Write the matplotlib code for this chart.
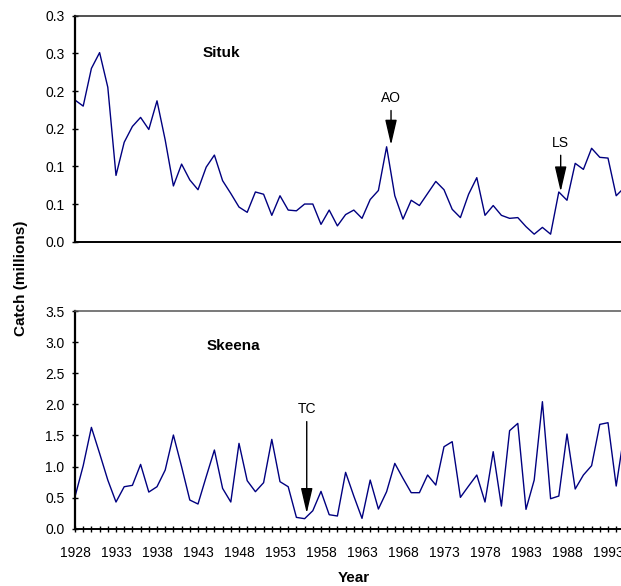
import matplotlib
matplotlib.use("Agg")
import matplotlib.pyplot as plt
from matplotlib.ticker import FixedLocator, MultipleLocator

plt.rcParams['font.family'] = ['Liberation Sans', 'DejaVu Sans']

years = list(range(1928, 1996))
situk = [0.188, 0.180, 0.230, 0.251, 0.205, 0.088, 0.132, 0.153, 0.165, 0.149,
         0.187, 0.135, 0.074, 0.103, 0.082, 0.069, 0.099, 0.115, 0.081, 0.064,
         0.046, 0.039, 0.066, 0.063, 0.035, 0.061, 0.042, 0.041, 0.050, 0.050,
         0.023, 0.042, 0.021, 0.036, 0.042, 0.031, 0.056, 0.068, 0.126, 0.061,
         0.030, 0.055, 0.048, 0.064, 0.080, 0.069, 0.043, 0.032, 0.063, 0.085,
         0.035, 0.048, 0.035, 0.031, 0.032, 0.020, 0.010, 0.019, 0.010, 0.066,
         0.055, 0.104, 0.096, 0.124, 0.112, 0.111, 0.061, 0.072]
skeena = [0.514, 1.013, 1.629, 1.211, 0.782, 0.429, 0.675, 0.697, 1.034, 0.589,
          0.675, 0.943, 1.506, 0.997, 0.461, 0.397, 0.836, 1.265, 0.648, 0.429,
          1.372, 0.772, 0.595, 0.740, 1.436, 0.756, 0.675, 0.182, 0.161, 0.289,
          0.600, 0.225, 0.204, 0.906, 0.525, 0.166, 0.782, 0.316, 0.595, 1.050,
          0.809, 0.579, 0.579, 0.863, 0.702, 1.318, 1.399, 0.504, 0.686, 0.863,
          0.429, 1.238, 0.364, 1.576, 1.693, 0.311, 0.782, 2.042, 0.482, 0.525,
          1.522, 0.638, 0.863, 1.013, 1.677, 1.704, 0.686, 1.55]

situk_ticks = [0.0, 0.05, 0.10, 0.15, 0.20, 0.25, 0.30]
situk_ticklabels = ['0.0', '0.1', '0.1', '0.2', '0.2', '0.3', '0.3']
skeena_ticks = [0.0, 0.5, 1.0, 1.5, 2.0, 2.5, 3.0, 3.5]
skeena_ticklabels = ['0.0', '0.5', '1.0', '1.5', '2.0', '2.5', '3.0', '3.5']
year_ticks = [1928, 1933, 1938, 1943, 1948, 1953, 1958, 1963, 1968, 1973, 1978, 1983, 1988, 1993]
year_ticklabels = ['1928', '1933', '1938', '1943', '1948', '1953', '1958', '1963',
                   '1968', '1973', '1978', '1983', '1988', '1993']

# events: (label, year, tip value, text value)
situk_events = [('AO', 1966.54, 0.1284, 0.1908), ('LS', 1987.23, 0.0664, 0.1314)]
skeena_events = [('TC', 1956.26, 0.2476, 1.924)]

W, H = 621, 586
fig = plt.figure(figsize=(W / 100, H / 100), dpi=100)

left = 75 / W
xmax = 1998
width = (xmax - 1928) * 8.2 / W

ax1 = fig.add_axes([left, 1 - 241.7 / H, width, (241.7 - 15.7) / H])
ax2 = fig.add_axes([left, 1 - 528.7 / H, width, (528.7 - 311) / H])

line_color = '#000080'
for ax in (ax1, ax2):
    ax.set_xlim(1928, xmax)
    ax.spines['right'].set_visible(False)
    ax.spines['left'].set_linewidth(1.6)
    ax.spines['left'].set_color('black')
    ax.spines['bottom'].set_linewidth(1.4)
    ax.spines['bottom'].set_color('black')
    ax.spines['top'].set_linewidth(1.1)
    ax.tick_params(axis='y', direction='inout', length=5, width=1.0, pad=5,
                   labelsize=10, colors='black')

ax1.spines['top'].set_color('#222222')
ax2.spines['top'].set_color('#555555')

ax1.plot(years, situk, color=line_color, lw=1.0)
ax2.plot(years, skeena, color=line_color, lw=1.0)

ax1.set_ylim(0, 0.30)
ax1.yaxis.set_major_locator(FixedLocator(situk_ticks))
ax1.set_yticklabels(situk_ticklabels)
ax1.set_xticks([])

ax2.set_ylim(0, 3.5)
ax2.yaxis.set_major_locator(FixedLocator(skeena_ticks))
ax2.set_yticklabels(skeena_ticklabels)
ax2.xaxis.set_major_locator(FixedLocator(year_ticks))
ax2.set_xticklabels(year_ticklabels)
ax2.xaxis.set_minor_locator(MultipleLocator(1))
ax2.tick_params(axis='x', which='both', direction='inout', length=5, width=1.0,
                pad=10, labelsize=10, colors='black')

ax1.text(0.223, 0.836, 'Situk', transform=ax1.transAxes, fontsize=11,
         fontweight='bold', ha='left', va='center')
ax2.text(0.230, 0.841, 'Skeena', transform=ax2.transAxes, fontsize=11,
         fontweight='bold', ha='left', va='center')

arrow_style = '-|>,head_length=15.5,head_width=3.6'
for ax, events in ((ax1, situk_events), (ax2, skeena_events)):
    for lab, yr, tip, txt in events:
        ax.annotate(lab, xy=(yr, tip), xytext=(yr, txt), ha='center', va='center',
                    fontsize=10,
                    arrowprops=dict(arrowstyle=arrow_style, mutation_scale=1,
                                    color='black', lw=1.0, shrinkA=2, shrinkB=0))

fig.text(21 / W, 1 - 278 / H, 'Catch (millions)', rotation=90, fontsize=11,
         fontweight='bold', ha='center', va='center')
fig.text(354 / W, 1 - 577.5 / H, 'Year', fontsize=11, fontweight='bold',
         ha='center', va='center')

fig.savefig('out.png', dpi=100)
